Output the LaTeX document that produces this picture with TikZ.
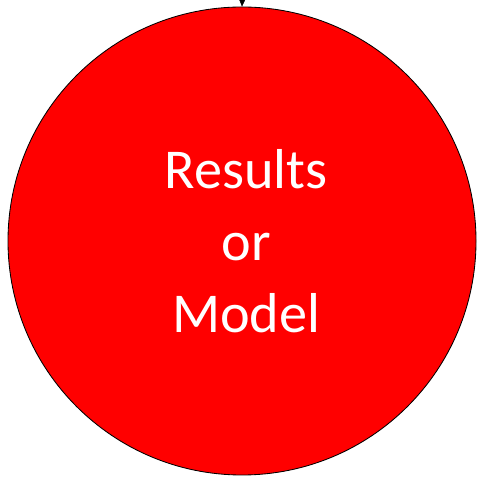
\documentclass[tikz,border=0pt]{standalone}
\usepackage{fontspec}
\setmainfont{Carlito}
\usetikzlibrary{arrows.meta}

\begin{document}
\begin{tikzpicture}[font=\fontsize{40}{52}\selectfont]
  \useasboundingbox (0,0) rectangle (12.075,12.075);
  \clip (0,0) rectangle (12.075,12.075);

  % the big red disc with its label
  \node[circle, draw=black, fill=red, line width=0.6pt, minimum size=11.7cm,
        text=white, align=center, inner sep=0pt] (res) at (6.05,6.05)
        {\hspace*{6pt}Results\\[-1pt]\hspace*{6pt}or\\[-1pt]\hspace*{6pt}Model};

  % incoming arrow, cut off at the top
  \coordinate (src) at (6.1,13.5);
  \draw[-{Triangle[length=7pt, width=6pt]}, thin] (src) -- (res.north);
\end{tikzpicture}
\end{document}
